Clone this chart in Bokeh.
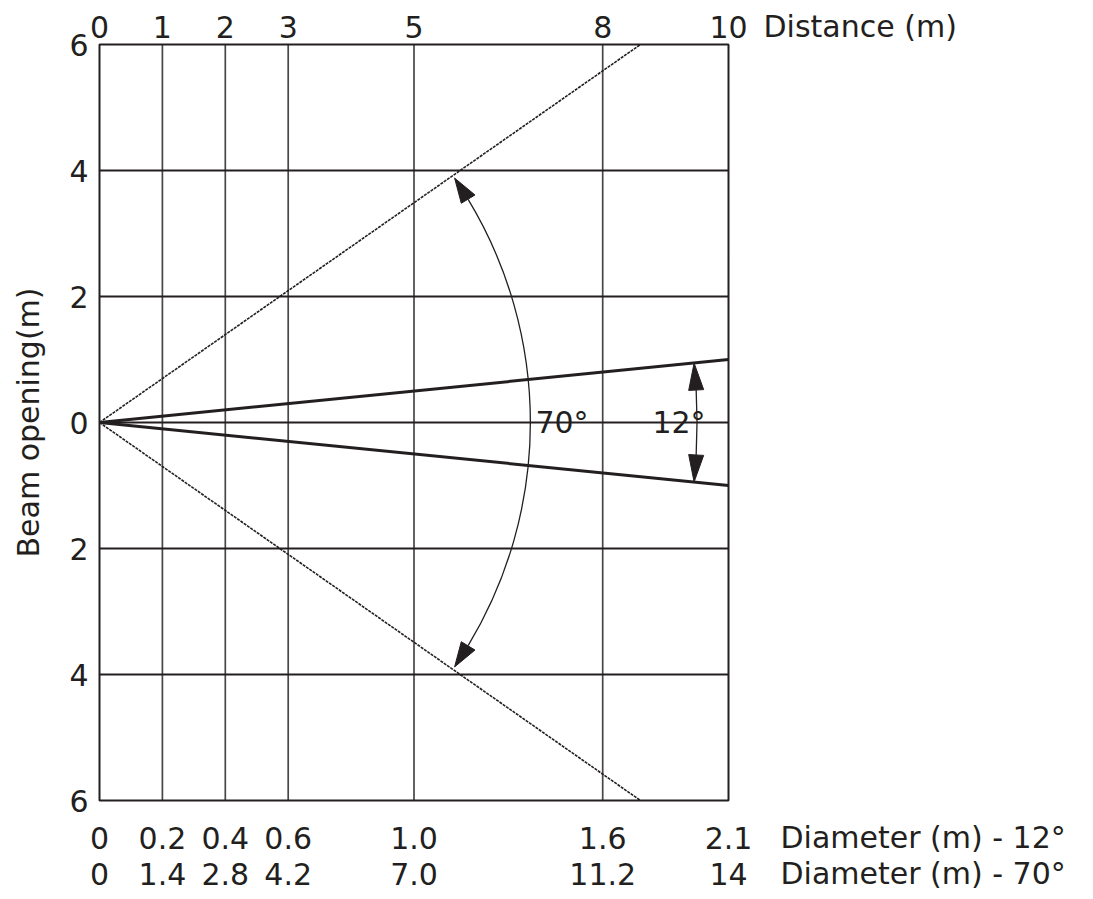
import numpy as np
from bokeh.plotting import figure
from bokeh.models import Range1d, Label
from bokeh.embed import file_html
from bokeh.resources import INLINE

# ---- data ----
distance_ticks = [0, 1, 2, 3, 5, 8, 10]
distance_labels = ["0", "1", "2", "3", "5", "8", "10"]
diam12_labels = ["0", "0.2", "0.4", "0.6", "1.0", "1.6", "2.1"]
diam70_labels = ["0", "1.4", "2.8", "4.2", "7.0", "11.2", "14"]
beam_ticks = [-6, -4, -2, 0, 2, 4, 6]
beam_labels = ["6", "4", "2", "0", "2", "4", "6"]
vgrid_ticks = [1, 2, 3, 5, 8]
hgrid_ticks = [-4, -2, 0, 2, 4]

beam70_x = [0, 8.6]
beam70_upper_y = [0, 6]
beam70_lower_y = [0, -6]
beam12_x = [0, 10]
beam12_upper_y = [0, 1.0]
beam12_lower_y = [0, -1.0]

arc70_radius = 6.85
arc70_tip_deg = 34.5
arc12_radius = 9.5
arc12_tip_deg = 5.7

X_MIN, X_MAX = 0, 10
Y_MIN, Y_MAX = -6, 6

FONT = "DejaVu Sans"
FS = "30px"
TXT = "#231f20"

# ---- layout (pixels) ----
W, H = 1093, 899
FRAME_L, FRAME_R, FRAME_T, FRAME_B = 99, 728, 44, 800
sx = (FRAME_R - FRAME_L) / (X_MAX - X_MIN)
sy = (FRAME_B - FRAME_T) / (Y_MAX - Y_MIN)
x_range = Range1d(X_MIN - FRAME_L / sx, X_MAX + (W - FRAME_R) / sx)
y_range = Range1d(Y_MIN - (H - FRAME_B) / sy, Y_MAX + FRAME_T / sy)

p = figure(width=W, height=H, x_range=x_range, y_range=y_range,
           x_axis_location=None, y_axis_location=None,
           output_backend="svg", toolbar_location=None,
           min_border=0, min_border_left=0, min_border_right=0,
           min_border_top=0, min_border_bottom=0)
p.background_fill_color = "white"
p.border_fill_color = "white"
p.outline_line_color = None
p.grid.visible = False

# grid
p.segment(x0=vgrid_ticks, y0=[Y_MIN] * len(vgrid_ticks), x1=vgrid_ticks,
          y1=[Y_MAX] * len(vgrid_ticks), line_color="#4a4546", line_width=1.7)
p.segment(x0=[X_MIN] * len(hgrid_ticks), y0=hgrid_ticks, x1=[X_MAX] * len(hgrid_ticks),
          y1=hgrid_ticks, line_color=TXT, line_width=1.9)

# beam lines
p.line(beam70_x, beam70_upper_y, line_color=TXT, line_width=1.6, line_dash="3 1")
p.line(beam70_x, beam70_lower_y, line_color=TXT, line_width=1.6, line_dash="3 1")
p.line(beam12_x, beam12_upper_y, line_color=TXT, line_width=3)
p.line(beam12_x, beam12_lower_y, line_color=TXT, line_width=3)

# frame border
p.quad(left=[X_MIN], right=[X_MAX], bottom=[Y_MIN], top=[Y_MAX],
       fill_color=None, line_color=TXT, line_width=2)

# arcs with arrow heads
def arc_with_heads(r, tip_deg, head_len_px, head_w_px):
    tip = np.radians(tip_deg)
    dth = (head_len_px / sx) / r
    base = tip - dth
    p.arc(x=[0], y=[0], radius=r, start_angle=-base, end_angle=base,
          line_color=TXT, line_width=1.3)
    hw = head_w_px / sx / 2
    xs, ys = [], []
    for s in (1, -1):
        t = s * tip
        b = s * base
        xs.append([r * np.cos(t), (r + hw) * np.cos(b), (r - hw) * np.cos(b)])
        ys.append([r * np.sin(t), (r + hw) * np.sin(b), (r - hw) * np.sin(b)])
    p.patches(xs, ys, fill_color=TXT, line_color=TXT, line_width=1)

arc_with_heads(arc70_radius, arc70_tip_deg, 25, 16)
arc_with_heads(arc12_radius, arc12_tip_deg, 27, 15)

def lab(text, x, y, xo=0, yo=0, align="center", angle=0):
    p.add_layout(Label(x=x, y=y, x_offset=xo, y_offset=yo, text=text, angle=angle,
                       text_font=FONT, text_font_size=FS, text_color=TXT,
                       text_baseline="middle", text_align=align))

# top tick labels
for t, l in zip(distance_ticks, distance_labels):
    lab(l, t, Y_MAX, yo=18)
lab("Distance (m)", X_MAX, Y_MAX, xo=35, yo=18, align="left")

# left tick labels
for t, l in zip(beam_ticks, beam_labels):
    lab(l, X_MIN, t, xo=-11, align="right")
lab("Beam opening(m)", X_MIN, 0, xo=-71, angle=np.pi / 2)

# bottom tick label rows
for t, l in zip(distance_ticks, diam12_labels):
    lab(l, t, Y_MIN, yo=-37)
for t, l in zip(distance_ticks, diam70_labels):
    lab(l, t, Y_MIN, yo=-73)
lab("Diameter (m) - 12°", X_MAX, Y_MIN, xo=52, yo=-37, align="left")
lab("Diameter (m) - 70°", X_MAX, Y_MIN, xo=52, yo=-73, align="left")

# angle labels
lab("70°", 6.93, 0, align="left")
lab("12°", 8.79, 0, align="left")

open("out.html", "w").write(file_html(p, INLINE))
